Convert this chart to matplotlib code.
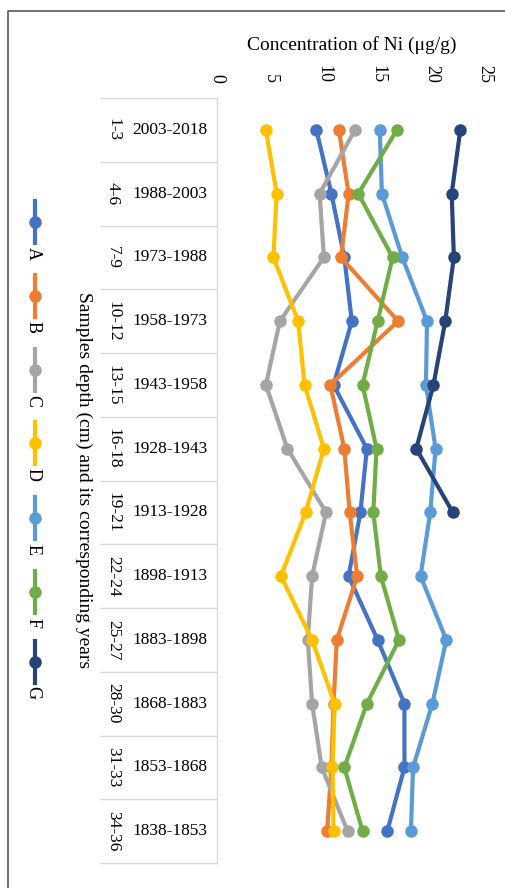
#!/usr/bin/env python3
"""Ni concentration profiles (chart drawn rotated 90 degrees clockwise)."""

import numpy as np
import matplotlib
matplotlib.use('Agg')
import matplotlib.pyplot as plt

plt.rcParams['font.family'] = ['Liberation Serif', 'DejaVu Serif']

# 样品深度与对应年份
depths = ['1-3', '4-6', '7-9', '10-12', '13-15', '16-18', '19-21',
          '22-24', '25-27', '28-30', '31-33', '34-36']
years = ['2003-2018', '1988-2003', '1973-1988', '1958-1973', '1943-1958',
         '1928-1943', '1913-1928', '1898-1913', '1883-1898', '1868-1883',
         '1853-1868', '1838-1853']

series_names = ['A', 'B', 'C', 'D', 'E', 'F', 'G']
A = [9.3, 10.7, 11.9, 12.6, 10.9, 14.0, 13.4, 12.3, 15.0, 17.5, 17.5, 15.9]
B = [11.4, 12.3, 11.6, 16.9, 10.6, 11.9, 12.4, 13.1, 11.2, 10.9, 10.7, 10.3]
C = [12.9, 9.6, 10.0, 5.9, 4.6, 6.6, 10.2, 8.9, 8.5, 8.9, 9.8, 12.2]
D = [4.6, 5.6, 5.3, 7.6, 8.2, 10.0, 8.3, 6.0, 8.9, 11.0, 10.8, 10.9]
E = [15.2, 15.4, 17.3, 19.6, 19.5, 20.4, 19.9, 19.0, 21.4, 20.1, 18.3, 18.1]
F = [16.8, 13.2, 16.4, 15.0, 13.6, 14.9, 14.6, 15.3, 17.0, 14.0, 11.9, 13.6]
G = [22.7, 21.9, 22.1, 21.3, 20.2, 18.6, 22.0, np.nan, np.nan, np.nan, np.nan, np.nan]
colors = ['#4472C4', '#ED7D31', '#A5A5A5', '#FFC000', '#5B9BD5', '#70AD47', '#264478']

W, H = 505, 888
fig = plt.figure(figsize=(W / 100, H / 100), dpi=100)

# 像素坐标辅助轴（边框、标题、图例）
ov = fig.add_axes([0, 0, 1, 1])
ov.set_xlim(0, W)
ov.set_ylim(H, 0)
ov.axis('off')

# 主绘图区
x0, x1, y0, y1 = 216.5, 485, 98, 863
ax = fig.add_axes([x0 / W, 1 - y1 / H, (x1 - x0) / W, (y1 - y0) / H])
pos = np.arange(len(depths))
for name, vals, c in zip(series_names, [A, B, C, D, E, F, G], colors):
    ax.plot(vals, pos, '-o', color=c, lw=3, ms=8, label=name)

ax.set_xlim(0, 25)
ax.set_ylim(len(depths) - 0.5, -0.5)
ax.xaxis.tick_top()
ax.set_xticks([0, 5, 10, 15, 20, 25])
ax.tick_params(axis='x', length=0, pad=11, labelsize=13, labelrotation=-90)
ax.set_yticks([])
for s in ['top', 'right', 'bottom']:
    ax.spines[s].set_visible(False)
ax.spines['left'].set_color('#D9D9D9')
ax.spines['left'].set_linewidth(1)

# 分类表格
tab_left = (100 - x0) / (x1 - x0)
ax.hlines(np.arange(-0.5, len(depths)), tab_left, 0, transform=ax.get_yaxis_transform(),
          color='#D9D9D9', lw=1, clip_on=False)
yt = ax.get_yaxis_transform()
for i, (d, yr) in enumerate(zip(depths, years)):
    ax.text((113 - x0) / (x1 - x0), i, d, transform=yt, rotation=-90,
            ha='center', va='center', fontsize=12.5)
    ax.text((170 - x0) / (x1 - x0), i, yr, transform=yt,
            ha='center', va='center', fontsize=12.5)

# 标题
ov.text((x0 + x1) / 2 + 1, 45, 'Concentration of Ni (μg/g)', ha='center', va='center', fontsize=14)
ov.text(84, (y0 + y1) / 2, 'Samples depth (cm) and its corresponding years',
        rotation=-90, ha='center', va='center', fontsize=14)

# 图例
leg_y = [222, 296, 370, 443, 518, 592, 662]
for name, c, ly in zip(series_names, colors, leg_y):
    ov.plot([35, 35], [ly - 21, ly + 21], color=c, lw=3)
    ov.plot([35], [ly], 'o', color=c, ms=8)
    ov.text(33, ly + 31, name, rotation=-90, ha='center', va='center', fontsize=13)

# 外框
ov.plot([8, 8, W], [H, 11.5, 11.5], color='#595959', lw=1.2)

fig.savefig('out.png', dpi=100)
